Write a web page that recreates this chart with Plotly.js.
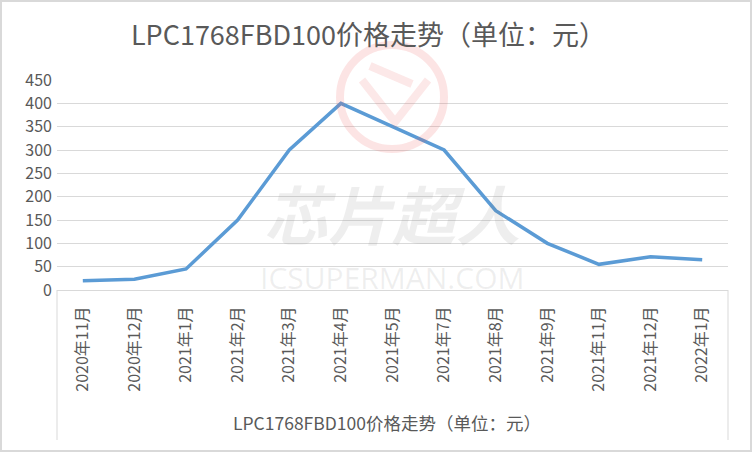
<!DOCTYPE html>
<html>
<head>
<meta charset="utf-8">
<script src="https://cdn.plot.ly/plotly-3.0.1.min.js"></script>
<style>
  body { margin: 0; background: #fff; }
  #wrap { position: relative; width: 752px; height: 452px; }
  #chart { width: 752px; height: 452px; }
  #frame { position: absolute; left: 0; top: 0; width: 752px; height: 452px;
           box-sizing: border-box; border: 2px solid #d9d9d9; pointer-events: none; }
</style>
</head>
<body>
<div id="wrap">
  <div id="chart"></div>
  <div id="frame"></div>
</div>
<script>
var months = ["2020年11月", "2020年12月", "2021年1月", "2021年2月", "2021年3月", "2021年4月",
              "2021年5月", "2021年7月", "2021年8月", "2021年9月", "2021年11月", "2021年12月", "2022年1月"];
var prices = [20, 23, 45, 150, 300, 400, 350, 300, 170, 100, 55, 71, 65];
var yTicks = [0, 50, 100, 150, 200, 250, 300, 350, 400, 450];

var titleText = "LPC1768FBD100价格走势（单位：元）";
var grey = "#595959";
var font = "'Noto Sans CJK SC', 'Open Sans', sans-serif";

// plot area in pixels: left 57, right 728, top 80, bottom 290
function px(x) { return (x - 57) / 671; }
function py(y) { return (290 - y) / 210; }

var trace = {
    x: months,
    y: prices,
    type: "scatter",
    mode: "lines",
    line: { color: "#5b9bd5", width: 3.5 },
    hoverinfo: "x+y"
};

var layout = {
    width: 752,
    height: 452,
    margin: { l: 57, r: 24, t: 80, b: 162 },
    paper_bgcolor: "#fff",
    plot_bgcolor: "#fff",
    showlegend: false,
    title: {
        text: titleText,
        x: 0.49, xanchor: "center",
        y: 0.922, yanchor: "middle",
        font: { family: font, size: 27, color: grey }
    },
    xaxis: {
        type: "category",
        range: [-0.5, months.length - 0.5],
        tickangle: -90,
        showgrid: false,
        showline: true,
        linecolor: "#d9d9d9",
        linewidth: 1,
        ticks: "outside",
        ticklen: 9,
        tickcolor: "rgba(0,0,0,0)",
        tickfont: { family: font, size: 16, color: grey },
        fixedrange: true
    },
    yaxis: {
        range: [0, 450],
        tickvals: yTicks,
        showgrid: true,
        gridcolor: "#d9d9d9",
        gridwidth: 1,
        zeroline: false,
        showline: false,
        ticks: "",
        ticklabelstandoff: 4,
        tickfont: { family: font, size: 16, color: grey },
        fixedrange: true
    },
    shapes: [
        { type: "line", xref: "paper", yref: "paper", x0: 0, x1: 0, y0: 0, y1: py(440),
          line: { color: "#d9d9d9", width: 1 } },
        { type: "line", xref: "paper", yref: "paper", x0: 1, x1: 1, y0: 0, y1: py(440),
          line: { color: "#d9d9d9", width: 1 } },
        // watermark logo ring
        { type: "circle", xref: "paper", yref: "paper", layer: "above",
          x0: px(340), x1: px(444), y0: py(149), y1: py(45),
          line: { color: "rgba(235,90,90,0.16)", width: 8 } },
        { type: "path", xref: "paper", yref: "paper", layer: "above",
          path: "M " + px(362) + " " + py(80) + " L " + px(395) + " " + py(122) +
                " L " + px(428) + " " + py(80) + " M " + px(370) + " " + py(66) +
                " L " + px(412) + " " + py(84),
          line: { color: "rgba(235,90,90,0.14)", width: 8 } }
    ],
    annotations: [
        { text: titleText, xref: "paper", yref: "paper", x: px(387), y: py(422),
          showarrow: false, xanchor: "center", yanchor: "middle",
          font: { family: font, size: 17.5, color: grey } },
        { text: "<b><i>芯片超人</i></b>", xref: "paper", yref: "paper", x: px(392), y: py(212),
          showarrow: false, xanchor: "center", yanchor: "middle",
          font: { family: font, size: 64, color: "rgba(120,120,120,0.13)" } },
        { text: "ICSUPERMAN.COM", xref: "paper", yref: "paper", x: px(392), y: py(277),
          showarrow: false, xanchor: "center", yanchor: "middle",
          font: { family: "'Open Sans', sans-serif", size: 30, color: "rgba(120,120,120,0.12)" } }
    ]
};

Plotly.newPlot("chart", [trace], layout, { displayModeBar: false, staticPlot: true });
</script>
</body>
</html>
